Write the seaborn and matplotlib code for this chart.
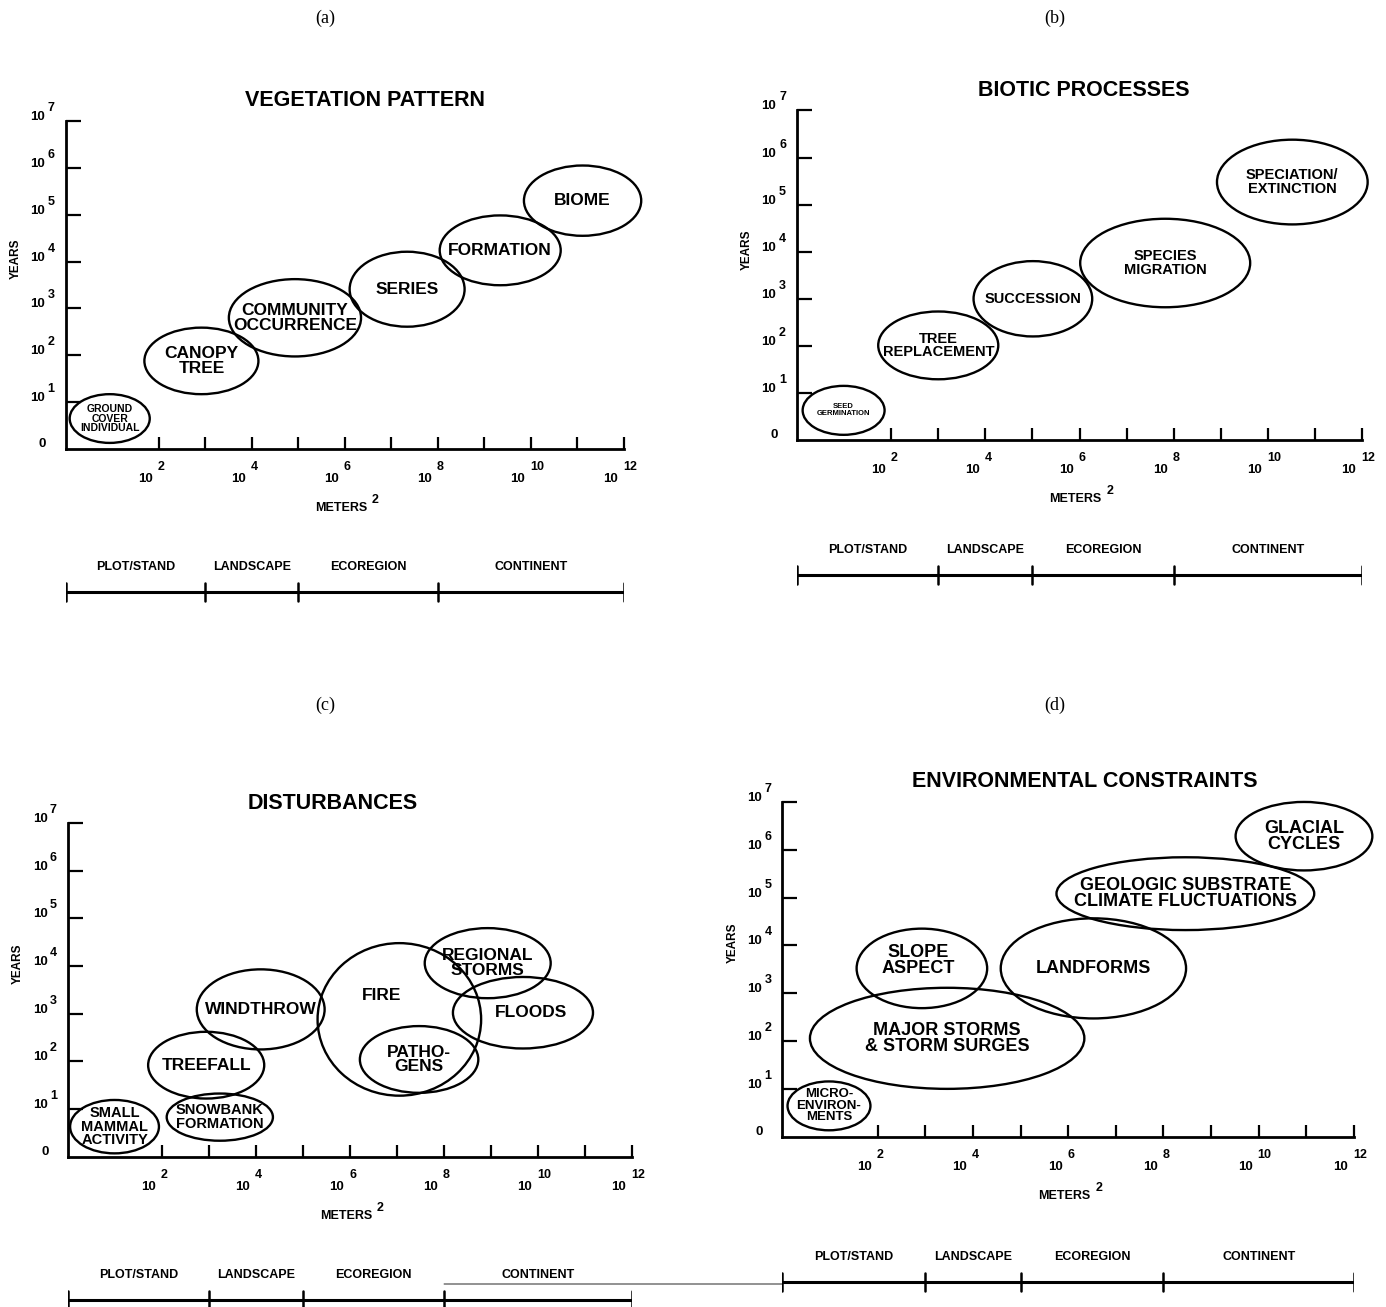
import matplotlib
matplotlib.use("Agg")
import matplotlib.pyplot as plt
import matplotlib.transforms as mtransforms
from matplotlib.patches import Ellipse, ConnectionPatch
import pandas as pd
import seaborn as sns

sns.set_theme(style="white")
plt.rcParams['font.family'] = ['Liberation Sans', 'DejaVu Sans']
plt.rcParams['text.color'] = 'black'
plt.rcParams['axes.labelcolor'] = 'black'
plt.rcParams['xtick.color'] = 'black'
plt.rcParams['ytick.color'] = 'black'

# ── data: ellipse centres / extents in log10(m2) and log10(years) ──
veg_labels = ["GROUND\nCOVER\nINDIVIDUAL", "CANOPY\nTREE", "COMMUNITY\nOCCURRENCE",
              "SERIES", "FORMATION", "BIOME"]
veg_x = [0.95, 2.92, 4.93, 7.34, 9.34, 11.11]
veg_y = [0.65, 1.88, 2.80, 3.41, 4.24, 5.30]
veg_w = [1.72, 2.45, 2.84, 2.47, 2.60, 2.52]
veg_h = [1.04, 1.42, 1.65, 1.60, 1.49, 1.50]

bio_labels = ["SEED\nGERMINATION", "TREE\nREPLACEMENT", "SUCCESSION",
              "SPECIES\nMIGRATION", "SPECIATION/\nEXTINCTION"]
bio_x = [0.99, 3.00, 5.01, 7.82, 10.52]
bio_y = [0.63, 2.01, 3.00, 3.76, 5.48]
bio_w = [1.74, 2.55, 2.52, 3.61, 3.20]
bio_h = [1.04, 1.44, 1.60, 1.88, 1.80]

dist_labels = ["SMALL\nMAMMAL\nACTIVITY", "SNOWBANK\nFORMATION", "TREEFALL", "WINDTHROW",
               "FIRE", "PATHO-\nGENS", "REGIONAL\nSTORMS", "FLOODS"]
dist_x = [0.99, 3.23, 2.94, 4.10, 7.05, 7.47, 8.93, 9.68]
dist_y = [0.63, 0.83, 1.92, 3.09, 2.88, 2.04, 4.06, 3.02]
dist_w = [1.89, 2.26, 2.47, 2.72, 3.48, 2.52, 2.68, 2.98]
dist_h = [1.12, 0.99, 1.40, 1.68, 3.20, 1.40, 1.47, 1.50]

env_labels = ["MICRO-\nENVIRON-\nMENTS", "MAJOR STORMS\n& STORM SURGES", "SLOPE\nASPECT",
              "LANDFORMS", "GEOLOGIC SUBSTRATE\nCLIMATE FLUCTUATIONS", "GLACIAL\nCYCLES"]
env_x = [0.98, 3.46, 2.93, 6.53, 8.46, 10.95]
env_y = [0.65, 2.06, 3.52, 3.52, 5.08, 6.28]
env_w = [1.74, 5.76, 2.74, 3.89, 5.41, 2.87]
env_h = [1.02, 2.11, 1.66, 2.09, 1.52, 1.43]

x_ticks = list(range(2, 13))
x_tick_labels = [2, 4, 6, 8, 10, 12]
y_ticks = list(range(1, 8))

scale_names = ["PLOT/STAND", "LANDSCAPE", "ECOREGION", "CONTINENT"]
scale_bounds = [0, 3, 5, 8, 12]

# label styling (not data)
veg_fs = [7.5, 12.5, 12.5, 12.5, 12.5, 12.5]
bio_fs = [5.5, 10.5, 10.5, 10.5, 10.5]
dist_fs = [10.5, 10.5, 12.5, 12.5, 12.5, 12.5, 12.5, 12.5]
env_fs = [9.5, 13, 13, 13, 13, 13]
label_nudge = {"FIRE": (-0.38, 0.50), "SLOPE\nASPECT": (-0.07, 0.17), "FLOODS": (0.17, 0.0)}

W, H = 1386, 1307
fig = plt.figure(figsize=(W / 100, H / 100), dpi=100)


def px_axes(l, b, r, t):
    return fig.add_axes([l / W, 1 - b / H, (r - l) / W, (b - t) / H])


def off(ax, dx, dy):
    return mtransforms.offset_copy(ax.transData, fig=fig, x=dx, y=dy, units='dots')


def power_label(ax, x, y, exp, base_off, exp_off):
    # "10" with a detached, full-size raised exponent, as on the original figure
    ax.text(x, y, "10", transform=off(ax, *base_off), ha='center', va='center',
            fontsize=9.5, fontweight='bold')
    ax.text(x, y, str(exp), transform=off(ax, *exp_off), ha='left', va='center',
            fontsize=9, fontweight='bold')


panels = [
    dict(tag="(a)", tag_xy=(325, 18), title="VEGETATION PATTERN", title_x=6.44,
         box=(65.5, 449, 624, 121), bar_y=592,
         df=pd.DataFrame(dict(label=veg_labels, x=veg_x, y=veg_y, w=veg_w, h=veg_h, fs=veg_fs))),
    dict(tag="(b)", tag_xy=(1055, 18), title="BIOTIC PROCESSES", title_x=6.1,
         box=(797, 440, 1362, 110.5), bar_y=575,
         df=pd.DataFrame(dict(label=bio_labels, x=bio_x, y=bio_y, w=bio_w, h=bio_h, fs=bio_fs))),
    dict(tag="(c)", tag_xy=(325, 705), title="DISTURBANCES", title_x=5.64,
         box=(68, 1156.7, 632, 823), bar_y=1300,
         df=pd.DataFrame(dict(label=dist_labels, x=dist_x, y=dist_y, w=dist_w, h=dist_h, fs=dist_fs))),
    dict(tag="(d)", tag_xy=(1055, 705), title="ENVIRONMENTAL CONSTRAINTS", title_x=6.35,
         box=(782.3, 1137, 1354, 801.7), bar_y=1282,
         df=pd.DataFrame(dict(label=env_labels, x=env_x, y=env_y, w=env_w, h=env_h, fs=env_fs))),
]

bars = []
for p in panels:
    l, b, r, t = p['box']
    ax = px_axes(l, b, r, t)
    ax.set_xlim(0, 12)
    ax.set_ylim(0, 7)
    ax.set_facecolor('none')
    sns.despine(ax=ax)
    for s in ['left', 'bottom']:
        ax.spines[s].set_linewidth(2.0)
        ax.spines[s].set_color('black')
    ax.set_xticks(x_ticks)
    ax.set_yticks(y_ticks)
    ax.set_xticklabels([])
    ax.set_yticklabels([])
    ax.tick_params(axis='x', direction='in', length=8.5, width=1.6, color='black', bottom=True)
    ax.tick_params(axis='y', direction='in', length=11, width=1.6, color='black', left=True)

    # tick labels
    for e in x_tick_labels:
        power_label(ax, e, 0, e, (-13, -30), (-1, -18))
    for e in y_ticks:
        power_label(ax, 0, e, e, (-28, 4), (-18, 13))
    ax.text(0, 0, "0", transform=off(ax, -23, 5), ha='center', va='center',
            fontsize=9.5, fontweight='bold')

    ax.text(0, 4.05, "YEARS", transform=off(ax, -50, 0), rotation=90,
            ha='center', va='center', fontsize=8.5, fontweight='bold')
    ax.text(6, 0, "METERS", transform=off(ax, -4, -59),
            ha='center', va='center', fontsize=9, fontweight='bold')
    ax.text(6, 0, "2", transform=off(ax, 27, -51),
            ha='left', va='center', fontsize=9, fontweight='bold')
    ax.text(p['title_x'], 7, p['title'], transform=off(ax, 0, 20),
            ha='center', va='center', fontsize=15.5, fontweight='bold')

    for row in p['df'].itertuples():
        ax.add_patch(Ellipse((row.x, row.y), row.w, row.h, fill=False,
                             ec='black', lw=1.7, clip_on=False))
        dx, dy = label_nudge.get(row.label, (0, 0))
        ax.text(row.x + dx, row.y + dy, row.label, ha='center', va='center',
                multialignment='center', fontsize=row.fs, fontweight='bold',
                linespacing=0.95, clip_on=False)

    fig.text(p['tag_xy'][0] / W, 1 - p['tag_xy'][1] / H, p['tag'], ha='center', va='center',
             fontsize=13, family=['Liberation Serif', 'DejaVu Serif'])

    # scale bar
    by = p['bar_y']
    bax = px_axes(l, by + 20, r, by - 40)
    bax.set_xlim(0, 12)
    bax.set_ylim(-20, 40)
    bax.axis('off')
    bax.plot([scale_bounds[0], scale_bounds[-1]], [0, 0], color='black', lw=2.2,
             solid_capstyle='butt')
    for sb in scale_bounds:
        bax.plot([sb, sb], [-9, 9], color='black', lw=1.8)
    for name, lo, hi in zip(scale_names, scale_bounds[:-1], scale_bounds[1:]):
        bax.text((lo + hi) / 2, 25, name, ha='center', va='center',
                 fontsize=9, fontweight='bold')
    bars.append(bax)

# faint scanner line joining the lower two scale bars
fig.add_artist(ConnectionPatch(xyA=(scale_bounds[3], 16), coordsA=bars[2].transData,
                               xyB=(scale_bounds[0], -2), coordsB=bars[3].transData,
                               color='black', lw=0.6))

fig.savefig("out.png", dpi=100, facecolor='white')
